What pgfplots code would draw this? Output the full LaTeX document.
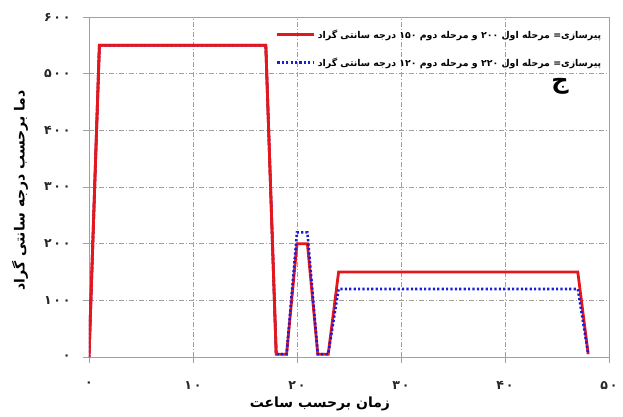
\documentclass[border=0pt]{standalone}
\usepackage{fontspec}
\usepackage{pgfplots}
\pgfplotsset{compat=1.18}
\TeXXeTstate=1
\newfontfamily\fa[Script=Arabic]{DejaVu Sans}
\newfontfamily\numfont[LetterSpace=14]{DejaVu Sans}
\definecolor{linered}{RGB}{228,24,28}
\definecolor{lineblue}{RGB}{28,28,220}
\definecolor{framegray}{RGB}{160,160,160}

\begin{document}
\begin{tikzpicture}
\useasboundingbox (-89pt,-59pt) rectangle (534pt,357pt);
\begin{axis}[
  at={(0,0)}, anchor=south west,
  scale only axis, width=520pt, height=340pt,
  xmin=0, xmax=50, ymin=0, ymax=600,
  xtick={0,10,20,30,40,50},
  ytick={0,100,200,300,400,500,600},
  xticklabels={۰,۱۰,۲۰,۳۰,۴۰,۵۰},
  yticklabels={۰,۱۰۰,۲۰۰,۳۰۰,۴۰۰,۵۰۰,۶۰۰},
  tick label style={font=\numfont\bfseries\fontsize{12.5}{14}\selectfont, text=black!85},
  xticklabel style={yshift=-15pt},
  yticklabel style={xshift=-9pt},
  tick pos=left, tick align=outside,
  major tick length=6pt,
  tick style={framegray, line width=0.6pt},
  axis line style={framegray, line width=0.7pt},
  grid=major,
  major grid style={framegray, line width=0.5pt, dash pattern=on 5pt off 2pt on 1pt off 2pt},
  xlabel={\fa\bfseries\beginR زمان برحسب ساعت\endR},
  ylabel={\fa\bfseries\beginR دما برحسب درجه سانتی گراد\endR},
  label style={font=\fontsize{14}{16}\selectfont},
  xlabel style={at={(axis description cs:0.444,-0.138)}, anchor=center},
  ylabel style={at={(axis description cs:-0.1327,0.49)}, anchor=center},
  legend style={draw=none, fill=none, at={(axis description cs:0.995,0.975)},
    anchor=north east, row sep=14pt,
    font=\fa\bfseries\fontsize{9.4}{11}\selectfont},
  legend cell align=left,
  legend image code/.code={\draw[#1] (0pt,0pt) -- (37pt,0pt);},
]
% aging schedule 200 / 150
\addplot[linered, line width=2.8pt, line join=miter] coordinates {
  (0,0) (1,550) (17,550) (18,5) (19,5) (20,200) (21,200)
  (22,5) (23,5) (24,150) (47,150) (48,5)
};
\addlegendentry{\beginR پیرسازی= مرحله اول \beginL ۲۰۰\endL{} و مرحله دوم \beginL ۱۵۰\endL{} درجه سانتی گراد\endR}
% aging schedule 220 / 120
\addplot[lineblue, line width=2.6pt, dash pattern=on 2.2pt off 2.2pt] coordinates {
  (0,0) (1,550) (17,550) (18,5) (19,5) (20,220) (21,220)
  (22,5) (23,5) (24,120) (47,120) (48,5)
};
\addlegendentry{\beginR پیرسازی= مرحله اول \beginL ۲۲۰\endL{} و مرحله دوم \beginL ۱۲۰\endL{} درجه سانتی گراد\endR}
% redraw the red line on top where both schedules coincide
\addplot[linered, line width=2.8pt, forget plot] coordinates {
  (0,0) (1,550) (17,550) (18,5)
};
\node[font=\fa\bfseries\fontsize{24}{26}\selectfont] at (axis cs:45.3,477) {ج};
\end{axis}
\end{tikzpicture}
\end{document}
